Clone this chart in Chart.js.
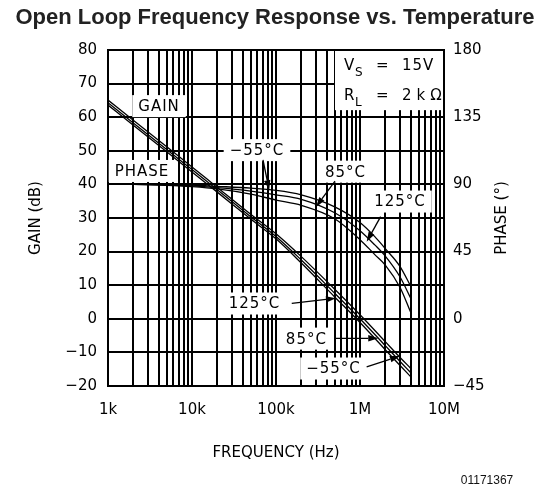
<!DOCTYPE html>
<html>
<head>
<meta charset="utf-8">
<title>Open Loop Frequency Response vs. Temperature</title>
<script src="https://cdn.jsdelivr.net/npm/chart.js@4"></script>
<style>
  html, body { margin: 0; padding: 0; background: #fff; }
  canvas { display: block; }
</style>
</head>
<body>
<canvas id="openLoopChart" width="550" height="490"></canvas>
<script>
// Values

// gain curves (dB), one per temperature
const gainFreq = [1e3, 2e3, 5e3, 1e4, 2e4, 5e4, 1e5, 2e5, 5e5, 1e6, 2e6, 3e6, 4e6];
const gainM55 = [65.1, 59.1, 51.2, 45.2, 39.1, 31.1, 25.3, 18.5, 8.8, 1.2, -6.8, -11.5, -14.7];
const gain85 = [64.3, 58.3, 50.4, 44.4, 38.4, 30.4, 24.5, 17.5, 7.6, 0.0, -8.0, -12.7, -16.0];
const gain125 = [63.6, 57.6, 49.7, 43.7, 37.7, 29.7, 23.8, 16.6, 6.5, -1.1, -9.2, -13.9, -17.2];

// phase curves (degrees), right axis
const phaseFreq = [1e3, 2e3, 5e3, 1e4, 2e4, 5e4, 1e5, 2e5, 5e5, 1e6, 1.5e6, 2e6, 3e6, 4e6];
const phaseM55 = [90, 90, 89.8, 89.5, 88.7, 87.5, 86, 83, 75, 64.5, 55, 47, 35, 22];
const phase85 = [90, 90, 89.6, 89, 87.8, 85.5, 83, 80, 71, 59, 49.5, 42, 28, 14];
const phase125 = [90, 90, 89.4, 88.5, 87, 83.5, 79.5, 76, 67, 53, 43, 36, 21, 4.5];

// axes
const xTickValues = [1e3, 1e4, 1e5, 1e6, 1e7];
const xTickLabels = ['1k', '10k', '100k', '1M', '10M'];
const xMinorSteps = [2, 3, 4, 5, 6, 7, 8, 9];
const gainTickValues = [-20, -10, 0, 10, 20, 30, 40, 50, 60, 70, 80];
const phaseTickValues = [-45, 0, 45, 90, 135, 180];

// text notes on the plot (x = Hz, y = dB on the gain axis)
const labelNotes = [
  { text: 'GAIN', x: 4.05e3, y: 63.3 },
  { text: 'PHASE', x: 2.54e3, y: 44 },
  { text: '\u221255°C', x: 59.4e3, y: 50.2 },
  { text: '85°C', x: 671e3, y: 43.8 },
  { text: '125°C', x: 2.99e6, y: 34.9 },
  { text: '125°C', x: 55.5e3, y: 4.55 },
  { text: '85°C', x: 230e3, y: -5.9 },
  { text: '\u221255°C', x: 484e3, y: -14.8 }
];
const arrowNotes = [
  { from: [70e3, 47.3], to: [83e3, 38.3] },
  { from: [504e3, 41.0], to: [299e3, 33.3] },
  { from: [1.76e6, 30.4], to: [1.2e6, 22.9] },
  { from: [154e3, 4.6], to: [518e3, 6.1] },
  { from: [504e3, -5.8], to: [1.65e6, -5.8] },
  { from: [1.2e6, -14.3], to: [2.99e6, -11.1] }
];
const infoBox = { x: 504e3, y: 62.1 };

Chart.defaults.font.family = '"DejaVu Sans", sans-serif';
Chart.defaults.font.size = 15;
Chart.defaults.color = '#000';

function toPoints(xs, ys) {
  return xs.map((x, i) => ({ x: x, y: ys[i] }));
}

const lineStyle = {
  borderColor: '#000',
  borderWidth: 1.3,
  pointRadius: 0,
  fill: false,
  cubicInterpolationMode: 'monotone'
};

// white boxes, labels, arrows and the extra texts
const notesPlugin = {
  id: 'notes',
  beforeDatasetsDraw(chart) {
    const ctx = chart.ctx;
    const xs = chart.scales.x, ys = chart.scales.y;
    const area = chart.chartArea;
    ctx.save();
    ctx.font = '15px "DejaVu Sans"';
    ctx.letterSpacing = '1px';
    ctx.textAlign = 'center';
    ctx.textBaseline = 'middle';
    labelNotes.forEach(n => {
      const px = xs.getPixelForValue(n.x);
      const py = ys.getPixelForValue(n.y);
      const w = ctx.measureText(n.text).width + 12;
      ctx.fillStyle = '#fff';
      ctx.fillRect(px - w / 2, py - 11, w, 22);
      ctx.fillStyle = '#000';
      ctx.fillText(n.text, px, py + 1);
    });

    // supply / load box in the top right corner
    const bx = xs.getPixelForValue(infoBox.x);
    const by = ys.getPixelForValue(infoBox.y);
    ctx.fillStyle = '#fff';
    ctx.fillRect(bx, area.top + 1, area.right - 1 - bx, by - area.top - 1);
    ctx.fillStyle = '#000';
    ctx.textAlign = 'left';
    const rows = [['V', 'S', '15V'], ['R', 'L', '2\u2009k\u2009\u03A9']];
    rows.forEach((r, i) => {
      const ry = area.top + 16 + i * 30;
      ctx.font = '15px "DejaVu Sans"';
      ctx.fillText(r[0], bx + 9, ry);
      ctx.fillText('=', bx + 41, ry);
      ctx.fillText(r[2], bx + 67, ry);
      ctx.font = '12px "DejaVu Sans"';
      ctx.fillText(r[1], bx + 20, ry + 7);
    });
    ctx.restore();
  },
  afterDatasetsDraw(chart) {
    const ctx = chart.ctx;
    const xs = chart.scales.x, ys = chart.scales.y;
    ctx.save();
    ctx.strokeStyle = '#000';
    ctx.fillStyle = '#000';
    ctx.lineWidth = 1.3;
    arrowNotes.forEach(a => {
      const x1 = xs.getPixelForValue(a.from[0]), y1 = ys.getPixelForValue(a.from[1]);
      const x2 = xs.getPixelForValue(a.to[0]), y2 = ys.getPixelForValue(a.to[1]);
      const ang = Math.atan2(y2 - y1, x2 - x1);
      const len = 10, half = 3.2;
      const bxp = x2 - len * Math.cos(ang), byp = y2 - len * Math.sin(ang);
      ctx.beginPath();
      ctx.moveTo(x1, y1);
      ctx.lineTo(bxp, byp);
      ctx.stroke();
      ctx.beginPath();
      ctx.moveTo(x2, y2);
      ctx.lineTo(bxp + half * Math.sin(ang), byp - half * Math.cos(ang));
      ctx.lineTo(bxp - half * Math.sin(ang), byp + half * Math.cos(ang));
      ctx.closePath();
      ctx.fill();
    });
    ctx.restore();
  },
  afterDraw(chart) {
    const ctx = chart.ctx;
    const area = chart.chartArea;
    ctx.save();
    ctx.fillStyle = '#000';
    ctx.textAlign = 'center';
    ctx.textBaseline = 'middle';
    // right axis title reads bottom to top like the left one
    ctx.translate(area.right + 58.5, (area.top + area.bottom) / 2);
    ctx.rotate(-Math.PI / 2);
    ctx.font = '15px "DejaVu Sans"';
    ctx.fillText('PHASE (°)', 0, 0);
    ctx.restore();

    ctx.save();
    ctx.fillStyle = '#111';
    ctx.font = '12px "Liberation Sans", Arial, sans-serif';
    ctx.textAlign = 'center';
    ctx.textBaseline = 'middle';
    ctx.fillText('01171367', chart.width - 63, chart.height - 9);
    ctx.restore();
  }
};

const gridStyle = { color: '#000', lineWidth: 2, drawTicks: false };
const borderStyle = { color: '#000', width: 2 };
const minusSign = v => String(v).replace('-', '\u2212');

const openLoopChart = new Chart(document.getElementById('openLoopChart').getContext('2d'), {
  type: 'line',
  data: {
    datasets: [
      { label: 'Gain -55°C', data: toPoints(gainFreq, gainM55), yAxisID: 'y', ...lineStyle },
      { label: 'Gain 85°C', data: toPoints(gainFreq, gain85), yAxisID: 'y', ...lineStyle },
      { label: 'Gain 125°C', data: toPoints(gainFreq, gain125), yAxisID: 'y', ...lineStyle },
      { label: 'Phase -55°C', data: toPoints(phaseFreq, phaseM55), yAxisID: 'y2', ...lineStyle },
      { label: 'Phase 85°C', data: toPoints(phaseFreq, phase85), yAxisID: 'y2', ...lineStyle },
      { label: 'Phase 125°C', data: toPoints(phaseFreq, phase125), yAxisID: 'y2', ...lineStyle }
    ]
  },
  options: {
    responsive: false,
    animation: false,
    layout: { padding: 0 },
    plugins: {
      legend: { display: false },
      tooltip: { enabled: false },
      title: {
        display: true,
        text: 'Open Loop Frequency Response vs. Temperature',
        color: '#222',
        font: { family: '"Liberation Sans", Arial, sans-serif', size: 22, weight: 'bold' },
        padding: { top: 5, bottom: 18.6 }
      }
    },
    scales: {
      x: {
        type: 'logarithmic',
        position: 'bottom',
        min: 1e3,
        max: 1e7,
        afterBuildTicks: scale => {
          const ticks = [];
          xTickValues.forEach((v, i) => {
            ticks.push({ value: v });
            if (i < xTickValues.length - 1) {
              xMinorSteps.forEach(m => ticks.push({ value: v * m }));
            }
          });
          scale.ticks = ticks;
        },
        afterFit: scale => { scale.height = 104; },
        grid: gridStyle,
        border: borderStyle,
        ticks: {
          autoSkip: false,
          maxRotation: 0,
          padding: 15,
          callback: value => {
            const i = xTickValues.indexOf(value);
            return i >= 0 ? xTickLabels[i] : '';
          }
        },
        title: { display: true, text: 'FREQUENCY (Hz)', padding: { top: 0, bottom: 28 } }
      },
      y: {
        position: 'left',
        min: -20,
        max: 80,
        afterBuildTicks: scale => { scale.ticks = gainTickValues.map(v => ({ value: v })); },
        afterFit: scale => { scale.width = 108; },
        grid: gridStyle,
        border: borderStyle,
        ticks: { padding: 11, callback: minusSign },
        title: { display: true, text: 'GAIN (dB)', padding: { top: 27, bottom: 0 } }
      },
      y2: {
        position: 'right',
        min: -45,
        max: 180,
        afterBuildTicks: scale => { scale.ticks = phaseTickValues.map(v => ({ value: v })); },
        afterFit: scale => { scale.width = 106; },
        grid: { drawOnChartArea: false, drawTicks: false },
        border: borderStyle,
        ticks: { padding: 9, callback: minusSign }
      }
    }
  },
  plugins: [notesPlugin]
});
</script>
</body>
</html>
